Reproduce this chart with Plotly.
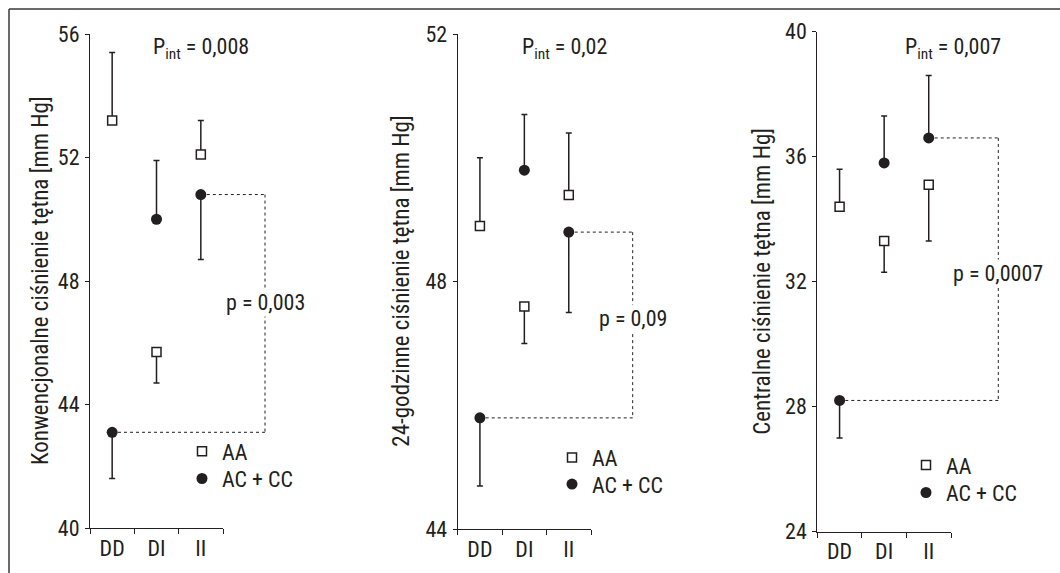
import plotly.graph_objects as go

W, H = 1060, 573

categories = ["DD", "DI", "II"]

# Panel 1: Konwencjonalne
p1_aa = [53.2, 45.7, 52.1]
p1_aa_up = [2.2, 0.0, 1.1]
p1_aa_down = [0.0, 1.0, 0.0]
p1_ac = [43.1, 50.0, 50.8]
p1_ac_up = [0.0, 1.9, 0.0]
p1_ac_down = [1.5, 0.0, 2.1]

# Panel 2: 24-godzinne
p2_aa = [48.9, 47.6, 49.4]
p2_aa_up = [1.1, 0.0, 1.0]
p2_aa_down = [0.0, 0.6, 0.0]
p2_ac = [45.8, 49.8, 48.8]
p2_ac_up = [0.0, 0.9, 0.0]
p2_ac_down = [1.1, 0.0, 1.3]

# Panel 3: Centralne
p3_aa = [34.4, 33.3, 35.1]
p3_aa_up = [1.2, 0.0, 0.0]
p3_aa_down = [0.0, 1.0, 1.8]
p3_ac = [28.2, 35.8, 36.6]
p3_ac_up = [0.0, 1.5, 2.0]
p3_ac_down = [1.2, 0.0, 0.0]

y_titles = ["Konwencjonalne ciśnienie tętna [mm Hg]",
            "24-godzinne ciśnienie tętna [mm Hg]",
            "Centralne ciśnienie tętna [mm Hg]"]
y_ranges = [(40, 56), (44, 52), (24, 40)]
pint_texts = ["0,008", "0,02", "0,007"]
p_texts = ["p = 0,003", "p = 0,09", "p = 0,0007"]
series_names = ["AA", "AC + CC"]

# layout (pixels)
x_doms_px = [(90, 223), (457.7, 591), (817.3, 951)]
y_doms_px = [(528, 34), (529.3, 34), (531.7, 31.7)]
bracket_x_px = [265, 632.7, 998.3]
ptext_y_px = [303, 318, 273]
pint_x_px = [151, 520, 903]
legend_x_px = [182, 552, 906]
legend_sym_y_px = [(450.5, 477.7), (456.7, 483.3), (464.3, 491.7)]
title_x_px = [40, 402, 763]

FONT = "Roboto Condensed, Liberation Sans, sans-serif"
INK = "#231f20"
FS = 22

panels = [
    (p1_aa, p1_aa_up, p1_aa_down, p1_ac, p1_ac_up, p1_ac_down),
    (p2_aa, p2_aa_up, p2_aa_down, p2_ac, p2_ac_up, p2_ac_down),
    (p3_aa, p3_aa_up, p3_aa_down, p3_ac, p3_ac_up, p3_ac_down),
]

fig = go.Figure()
shapes = []
annotations = []
layout_axes = {}

for i, (aa, aa_up, aa_dn, ac, ac_up, ac_dn) in enumerate(panels):
    n = "" if i == 0 else str(i + 1)
    xa, ya = "x" + n, "y" + n
    leg_a = "legend" if i == 0 else "legend" + str(2 * i + 1)
    leg_b = "legend" + str(2 * i + 2)
    fig.add_trace(go.Scatter(
        x=categories, y=aa, xaxis=xa, yaxis=ya, mode="markers", name=series_names[0],
        legend=leg_a,
        marker=dict(symbol="square", size=9, color="white", line=dict(color=INK, width=1.5)),
        error_y=dict(type="data", symmetric=False, array=aa_up, arrayminus=aa_dn,
                     color=INK, thickness=1.5, width=3),
    ))
    fig.add_trace(go.Scatter(
        x=categories, y=ac, xaxis=xa, yaxis=ya, mode="markers", name=series_names[1],
        legend=leg_b,
        marker=dict(symbol="circle", size=11, color=INK, line=dict(color=INK, width=0)),
        error_y=dict(type="data", symmetric=False, array=ac_up, arrayminus=ac_dn,
                     color=INK, thickness=1.5, width=3),
    ))
    x0, x1 = x_doms_px[i][0] / W, x_doms_px[i][1] / W
    yb, yt = 1 - y_doms_px[i][0] / H, 1 - y_doms_px[i][1] / H
    lo, hi = y_ranges[i]
    layout_axes["xaxis" + n] = dict(
        domain=[x0, x1], anchor=ya, type="category", categoryorder="array",
        categoryarray=categories, range=[-0.5, 2.5], tickson="boundaries",
        ticks="outside", ticklen=5, tickwidth=1.2, tickcolor=INK,
        showline=True, linecolor=INK, linewidth=1.2, showgrid=False, zeroline=False,
        tickfont=dict(family=FONT, size=FS, color=INK), fixedrange=True, automargin=False,
    )
    layout_axes["yaxis" + n] = dict(
        domain=[yb, yt], anchor=xa, range=[lo, hi], dtick=4, tick0=lo,
        ticks="outside", ticklen=4, tickwidth=1.2, tickcolor=INK, ticklabelstandoff=1,
        showline=True, linecolor=INK, linewidth=1.2, showgrid=False, zeroline=False,
        tickfont=dict(family=FONT, size=FS, color=INK), fixedrange=True, automargin=False,
    )
    annotations.append(dict(
        text=y_titles[i], xref="paper", yref="paper", x=title_x_px[i] / W,
        y=(yb + yt) / 2, textangle=-90, showarrow=False, xanchor="center", yanchor="middle",
        font=dict(family=FONT, size=23, color=INK)))
    annotations.append(dict(
        text="P<sub>int</sub> = " + pint_texts[i], xref="paper", yref="paper",
        x=pint_x_px[i] / W, y=1 - 49 / H, xanchor="left", yanchor="middle",
        showarrow=False, font=dict(family=FONT, size=FS, color=INK)))
    cx_dd = x0 + (0.5 / 3) * (x1 - x0)
    cx_ii = x0 + (2.5 / 3) * (x1 - x0)
    bx = bracket_x_px[i] / W
    line = dict(color=INK, width=1, dash="dot")
    shapes.append(dict(type="line", xref="paper", yref=ya, x0=cx_ii, x1=bx, y0=ac[2], y1=ac[2], line=line, layer="below"))
    shapes.append(dict(type="line", xref="paper", yref=ya, x0=bx, x1=bx, y0=ac[2], y1=ac[0], line=line, layer="below"))
    shapes.append(dict(type="line", xref="paper", yref=ya, x0=bx, x1=cx_dd, y0=ac[0], y1=ac[0], line=line, layer="below"))
    annotations.append(dict(
        text=p_texts[i], xref="paper", yref="paper", x=bx, y=1 - ptext_y_px[i] / H,
        xanchor="center", yanchor="middle", showarrow=False, bgcolor="white",
        font=dict(family=FONT, size=FS, color=INK)))
    for leg, sy in ((leg_a, legend_sym_y_px[i][0]), (leg_b, legend_sym_y_px[i][1])):
        layout_axes[leg] = dict(
            x=legend_x_px[i] / W, y=1 - (sy - 20) / H, xanchor="left", yanchor="top",
            bgcolor="rgba(0,0,0,0)", borderwidth=0,
            font=dict(family=FONT, size=FS, color=INK), tracegroupgap=0,
        )

# outer frame (top and left edges of a cropped box)
frame = dict(color="#3a3a3a", width=1.5)
shapes.append(dict(type="line", xref="paper", yref="paper", x0=9 / W, x1=1, y0=1 - 9 / H, y1=1 - 9 / H, line=frame))
shapes.append(dict(type="line", xref="paper", yref="paper", x0=9 / W, x1=9 / W, y0=0, y1=1 - 9 / H, line=frame))

fig.update_layout(
    width=W, height=H, margin=dict(l=0, r=0, t=0, b=0, pad=0, autoexpand=False),
    paper_bgcolor="white", plot_bgcolor="white",
    showlegend=True, shapes=shapes, annotations=annotations,
    font=dict(family=FONT, color=INK),
    **layout_axes,
)

fig.write_html("out.html", config={"displayModeBar": False},
               post_script="document.body.style.margin='0';document.body.style.overflow='hidden';")
